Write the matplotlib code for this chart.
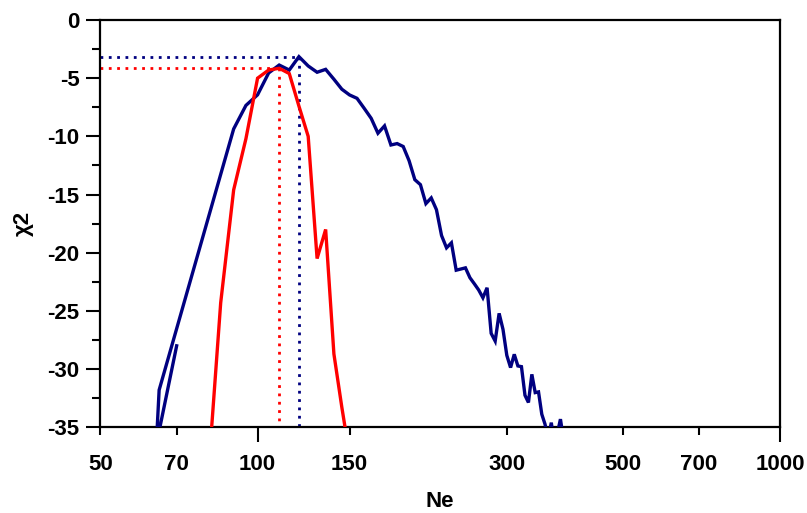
import matplotlib
matplotlib.use("Agg")
import matplotlib.pyplot as plt
from matplotlib.ticker import FixedLocator, FixedFormatter, MultipleLocator

plt.rcParams['font.family'] = ['Liberation Sans', 'DejaVu Sans']
plt.rcParams['font.weight'] = 'bold'

# blue series (Ne, chi2) - first three points form the small loop at the left
blue_ne = [70, 64.0, 64.8, 90, 95, 100, 105, 110, 115, 120, 125, 130, 135, 140,
           145, 150, 155, 160, 165, 170, 175, 180, 185, 190, 195, 200, 205, 210,
           215, 220, 225, 230, 235, 240, 245, 250, 255, 260, 265, 270, 275, 280,
           285, 290, 295, 300, 305, 310, 315, 320, 325, 330, 335, 340, 345, 350,
           355, 360, 365, 370, 375, 380, 385]
blue_chi = [-28.0, -36.5, -31.8, -9.36, -7.34, -6.43, -4.55, -3.87, -4.30, -3.15,
            -3.95, -4.49, -4.24, -5.09, -5.95, -6.44, -6.73, -7.59, -8.45, -9.73,
            -9.10, -10.74, -10.62, -10.87, -12.09, -13.72, -14.15, -15.78, -15.29,
            -16.30, -18.52, -19.58, -19.15, -21.50, -21.40, -21.30, -22.15, -22.67,
            -23.20, -23.87, -23.01, -26.93, -27.59, -25.21, -26.59, -28.82, -29.87,
            -28.73, -29.73, -29.79, -32.25, -32.87, -30.45, -32.02, -31.96, -33.88,
            -34.73, -36.0, -34.6, -36.5, -35.5, -34.3, -36.0]

# red series
red_ne = [80, 85, 90, 95, 100, 105, 110, 115, 120, 125, 130, 135, 140, 145, 150]
red_chi = [-40.6, -24.3, -14.6, -10.2, -5.0, -4.3, -4.15, -4.6, -7.4, -10.0,
           -20.5, -18.0, -28.7, -33.3, -37.4]

x_ticks = [50, 70, 100, 150, 300, 500, 700, 1000]
x_long = [100, 1000]

navy = '#000080'
red = '#ff0000'

fig = plt.figure(figsize=(8.07, 5.13), dpi=100)
ax = fig.add_axes([0.1243, 0.1671, 0.9665 - 0.1243, 0.961 - 0.1671])

ax.plot(blue_ne, blue_chi, color=navy, lw=2.4, solid_joinstyle='miter', zorder=3)
ax.plot(red_ne, red_chi, color=red, lw=2.4, solid_joinstyle='miter', zorder=3)

# dotted guides at the maxima
for ne, chi, c in [(blue_ne, blue_chi, navy), (red_ne, red_chi, red)]:
    i = chi.index(max(chi))
    ax.plot([50, ne[i]], [chi[i], chi[i]], color=c, lw=2, ls=(0, (1, 2)), zorder=2)
    ax.plot([ne[i], ne[i]], [chi[i], -35], color=c, lw=2, ls=(0, (1, 2)), zorder=2)

ax.set_xscale('log')
ax.set_xlim(50, 1000)
ax.set_ylim(-35, 0)

ax.xaxis.set_major_locator(FixedLocator(x_long))
ax.xaxis.set_major_formatter(FixedFormatter([str(v) for v in x_long]))
minor = [v for v in x_ticks if v not in x_long]
ax.xaxis.set_minor_locator(FixedLocator(minor))
ax.xaxis.set_minor_formatter(FixedFormatter([str(v) for v in minor]))
ax.tick_params(axis='x', which='major', direction='out', length=11, width=1.5,
               pad=8.5, labelsize=16)
ax.tick_params(axis='x', which='minor', direction='out', length=5.8, width=1.5,
               pad=13.7, labelsize=16)

ax.yaxis.set_major_locator(MultipleLocator(5))
ax.yaxis.set_minor_locator(MultipleLocator(2.5))
ax.tick_params(axis='y', which='major', direction='out', length=10, width=1.5,
               pad=5, labelsize=16)
ax.tick_params(axis='y', which='minor', direction='out', length=5.8, width=1.5)
ax.set_yticklabels([f'{int(v)}' for v in ax.get_yticks()])

for s in ax.spines.values():
    s.set_linewidth(1.6)

ax.set_xlabel('Ne', fontsize=16, fontweight='bold', labelpad=11)
ax.set_ylabel('χ2', fontsize=16, fontweight='bold', labelpad=10)

fig.savefig('out.png', dpi=100)
